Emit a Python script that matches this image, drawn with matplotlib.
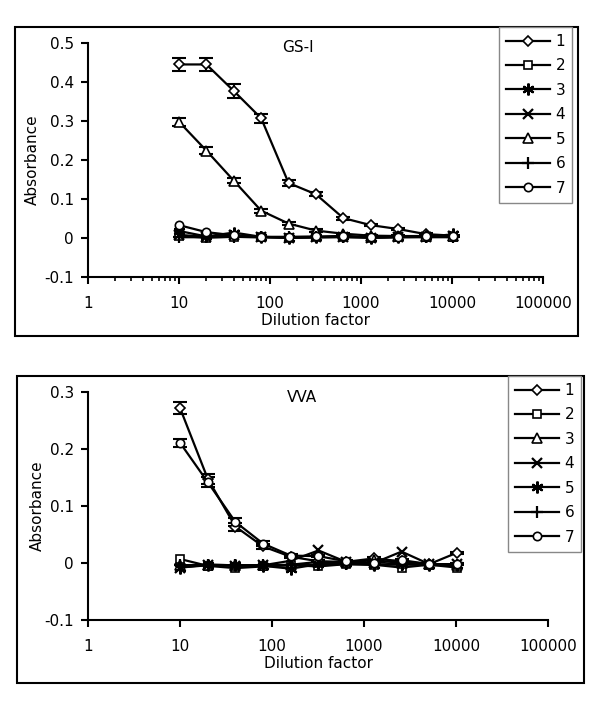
import matplotlib
matplotlib.use("Agg")
import matplotlib.pyplot as plt
from matplotlib.patches import Rectangle
from matplotlib.ticker import FixedLocator, LogLocator, NullFormatter, FixedFormatter

plt.rcParams['font.family'] = ['DejaVu Sans']

dilution = [10, 20, 40, 80, 160, 320, 640, 1280, 2560, 5120, 10240]
x_tick_labels = ['1', '10', '100', '1000', '10000', '100000']
series_names = ['1', '2', '3', '4', '5', '6', '7']

# GS-I panel
gs_titles = 'GS-I'
gs1 = [0.445, 0.445, 0.377, 0.307, 0.141, 0.112, 0.051, 0.033, 0.023, 0.010, 0.006]
gs1_err = [0.016, 0.016, 0.017, 0.012, 0.007, 0.005, 0.004, 0.003, 0.003, 0.002, 0.002]
gs2 = [0.005, 0.001, 0.003, 0.002, 0.001, 0.002, 0.002, 0.001, 0.002, 0.002, 0.002]
gs3 = [0.018, 0.004, 0.014, 0.003, 0.000, 0.002, 0.006, 0.001, 0.003, 0.004, 0.009]
gs4 = [0.008, 0.003, 0.007, 0.003, 0.001, 0.002, 0.003, 0.001, 0.002, 0.003, 0.006]
gs5 = [0.298, 0.224, 0.147, 0.070, 0.037, 0.019, 0.011, 0.006, 0.005, 0.005, 0.004]
gs5_err = [0.010, 0.009, 0.007, 0.005, 0.004, 0.003, 0.002, 0.002, 0.002, 0.002, 0.002]
gs6 = [0.002, 0.002, 0.003, 0.002, 0.002, 0.002, 0.003, 0.002, 0.003, 0.003, 0.003]
gs7 = [0.033, 0.015, 0.007, 0.003, 0.003, 0.004, 0.004, 0.002, 0.003, 0.004, 0.005]
gs_yticks = [-0.1, 0, 0.1, 0.2, 0.3, 0.4, 0.5]
gs_ylabels = ['-0.1', '0', '0.1', '0.2', '0.3', '0.4', '0.5']

# VVA panel
vva_title = 'VVA'
vv1 = [0.272, 0.148, 0.064, 0.029, 0.011, 0.003, 0.002, 0.008, 0.003, -0.002, 0.018]
vv1_err = [0.011, 0.009, 0.007, 0.004, 0.003, 0.002, 0.002, 0.002, 0.002, 0.002, 0.002]
vv2 = [0.007, -0.005, -0.009, -0.006, -0.004, -0.006, -0.002, -0.003, -0.008, -0.003, -0.008]
vv3 = [-0.004, -0.003, -0.004, -0.004, -0.003, 0.002, 0.001, 0.005, 0.000, -0.002, -0.003]
vv4 = [-0.008, -0.004, -0.005, -0.004, 0.004, 0.022, 0.002, 0.000, 0.020, -0.002, -0.002]
vv5 = [-0.008, -0.003, -0.004, -0.005, -0.010, -0.002, 0.000, -0.003, -0.001, -0.004, -0.003]
vv6 = [-0.004, -0.004, -0.004, -0.004, -0.004, -0.003, -0.002, -0.003, -0.003, -0.003, -0.004]
vv7 = [0.211, 0.142, 0.072, 0.034, 0.013, 0.012, 0.003, 0.000, 0.005, -0.002, -0.002]
vv7_err = [0.007, 0.009, 0.007, 0.004, 0.003, 0.002, 0.002, 0.002, 0.002, 0.002, 0.002]
vv_yticks = [-0.1, 0, 0.1, 0.2, 0.3]
vv_ylabels = ['-0.1', '0', '0.1', '0.2', '0.3']

W, H = 600, 709
fig = plt.figure(figsize=(W / 100, H / 100), dpi=100)


def fx(px):
    return px / W


def fy(py):
    return 1 - py / H


ASTER = (6, 2, 0)
FS = 11
MSIZE = {'D': 5.5, 's': 6, 'x': 7, '^': 6.5, '+': 8, 'o': 6}


def frame(x0, y0, x1, y1):
    fig.patches.append(Rectangle((fx(x0), fy(y1)), fx(x1) - fx(x0), fy(y0) - fy(y1),
                                 transform=fig.transFigure, fill=False,
                                 edgecolor='black', lw=1.5, zorder=0))


def panel(left, right, top, bottom, ymin, ymax, yticks, ylabels, series, markers,
          title, title_xy, leg_xy, ylabel_x, minor):
    ax = fig.add_axes([fx(left), fy(bottom), fx(right) - fx(left), fy(top) - fy(bottom)])
    ax.set_xscale('log')
    ax.set_xlim(1, 100000)
    ax.set_ylim(ymin, ymax)
    ax.patch.set_alpha(0)
    for s in ['top', 'right']:
        ax.spines[s].set_visible(False)
    for s in ['left', 'bottom']:
        ax.spines[s].set_linewidth(1.5)
    handles = []
    for (vals, err), mk, name in zip(series, markers, series_names):
        if err is not None:
            ax.errorbar(dilution, vals, yerr=err, fmt='none', ecolor='black',
                        elinewidth=1.5, capsize=4.7, capthick=1.5, zorder=3)
        ms = MSIZE.get(mk, 8) if isinstance(mk, str) else 8.5
        mew = 1.6 if (not isinstance(mk, str) or mk in ('x', '+')) else 1.2
        h, = ax.plot(dilution, vals, color='black', lw=1.6, marker=mk,
                     markersize=ms, markerfacecolor='white', markeredgecolor='black',
                     markeredgewidth=mew, zorder=4, label=name)
        handles.append(h)
    ax.xaxis.set_major_locator(FixedLocator([1, 10, 100, 1000, 10000, 100000]))
    ax.xaxis.set_major_formatter(FixedFormatter(x_tick_labels))
    if minor:
        ax.xaxis.set_minor_locator(LogLocator(base=10, subs=range(2, 10)))
        ax.xaxis.set_minor_formatter(NullFormatter())
    else:
        ax.xaxis.set_minor_locator(FixedLocator([]))
    ax.yaxis.set_major_locator(FixedLocator(yticks))
    ax.yaxis.set_major_formatter(FixedFormatter(ylabels))
    ax.tick_params(axis='both', which='major', direction='out', length=5, width=1.5,
                   labelsize=FS)
    ax.tick_params(axis='x', which='major', pad=9)
    ax.tick_params(axis='y', which='major', pad=5)
    ax.tick_params(axis='x', which='minor', direction='out', length=3, width=1.2)
    ax.set_xlabel('Dilution factor', fontsize=FS, labelpad=1)
    fig.text(fx(ylabel_x), fy((top + bottom) / 2), 'Absorbance', rotation=90,
             ha='center', va='center', fontsize=FS)
    fig.text(fx(title_xy[0]), fy(title_xy[1]), title, ha='center', va='center', fontsize=FS)
    leg = fig.legend(handles=handles, loc='upper left',
                     bbox_to_anchor=(fx(leg_xy[0]), fy(leg_xy[1])),
                     bbox_transform=fig.transFigure, borderaxespad=0,
                     fontsize=FS, handlelength=2.9, handletextpad=0.35,
                     labelspacing=0.62, borderpad=0.45, fancybox=False,
                     framealpha=1, edgecolor='#888888')
    leg.get_frame().set_linewidth(1.0)
    return ax


gs_series = [(gs1, gs1_err), (gs2, None), (gs3, None), (gs4, None), (gs5, gs5_err),
             (gs6, None), (gs7, None)]
gs_markers = ['D', 's', ASTER, 'x', '^', '+', 'o']
frame(15, 27, 578, 336)
panel(88, 543, 43, 277, -0.1, 0.5, gs_yticks, gs_ylabels, gs_series, gs_markers,
      gs_titles, (298, 48), (499, 27), 32, True)

vv_series = [(vv1, vv1_err), (vv2, None), (vv3, None), (vv4, None), (vv5, None),
             (vv6, None), (vv7, vv7_err)]
vv_markers = ['D', 's', '^', 'x', ASTER, '+', 'o']
frame(17, 376, 584, 683)
panel(88, 548, 392, 620, -0.1, 0.3, vv_yticks, vv_ylabels, vv_series, vv_markers,
      vva_title, (302, 397), (508, 376), 37, False)

fig.savefig('out.png', dpi=100)
